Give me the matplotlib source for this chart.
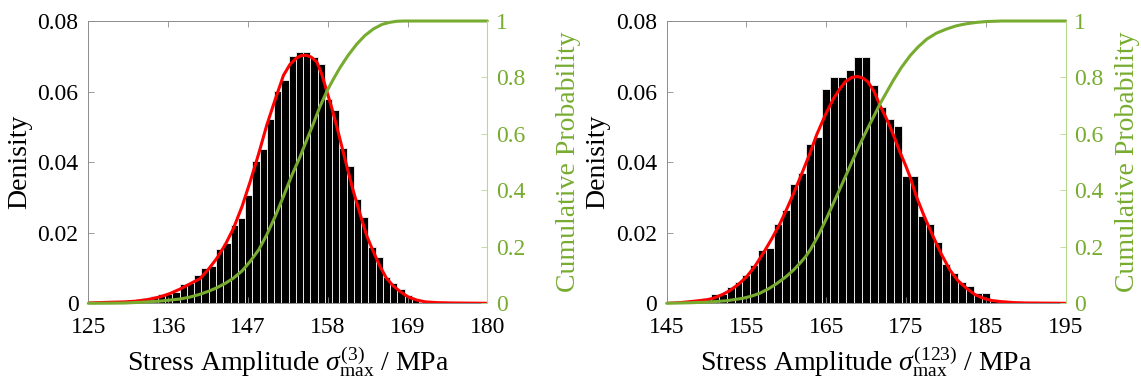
import numpy as np
import matplotlib
matplotlib.use('Agg')
import matplotlib.pyplot as plt

plt.rcParams['font.family'] = ['Liberation Serif', 'DejaVu Serif']
plt.rcParams['mathtext.fontset'] = 'custom'
plt.rcParams['mathtext.rm'] = 'Liberation Serif'
plt.rcParams['mathtext.it'] = 'Liberation Serif:italic'

# ---- left panel: sigma_max^(3) ----
bins_3 = [129.1, 130.1, 131.1, 132.1, 133.1, 134.1, 135.1, 136.1, 137.1, 138.1,
          139.1, 140.1, 141.1, 142.1, 143.1, 144.1, 145.1, 146.1, 147.1, 148.1,
          149.1, 150.1, 151.1, 152.1, 153.1, 154.1, 155.1, 156.1, 157.1, 158.1,
          159.1, 160.1, 161.1, 162.1, 163.1, 164.1, 165.1, 166.1, 167.1, 168.1,
          169.1, 170.1, 171.1]
dens_3 = [0.0003, 0.0006, 0.0008, 0.0013, 0.0014, 0.0020, 0.0026, 0.0027, 0.0031, 0.0054,
          0.0057, 0.0080, 0.0099, 0.0106, 0.0153, 0.0172, 0.0222, 0.0241, 0.0307, 0.0404,
          0.0436, 0.0521, 0.0602, 0.0634, 0.0701, 0.0711, 0.0711, 0.0699, 0.0677, 0.0580,
          0.0547, 0.0440, 0.0389, 0.0295, 0.0245, 0.0160, 0.0130, 0.0075, 0.0058, 0.0040,
          0.0023, 0.0011, 0.0004]
pdf_x_3 = [125.0, 126.5, 128.0, 130.0, 131.5, 133.0, 134.0, 135.0, 136.3, 137.6,
           139.0, 140.4, 141.5, 142.7, 143.9, 145.0, 146.2, 147.3, 148.5, 149.6,
           150.8, 151.9, 152.8, 153.7, 154.3, 155.0, 155.7, 156.5, 157.2, 157.9,
           158.5, 159.2, 159.9, 160.6, 161.5, 162.5, 163.4, 164.3, 165.2, 166.1,
           167.0, 168.0, 169.1, 170.3, 171.5, 173.0, 175.0, 180.0]
pdf_y_3 = [0.0001, 0.0002, 0.0003, 0.0004, 0.0006, 0.0010, 0.0014, 0.0019, 0.0028, 0.0040,
           0.0055, 0.0070, 0.0095, 0.0127, 0.0167, 0.0212, 0.0275, 0.0344, 0.0425, 0.0505,
           0.0580, 0.0646, 0.0677, 0.0695, 0.0702, 0.0703, 0.0698, 0.0684, 0.0648, 0.0599,
           0.0558, 0.0505, 0.0448, 0.0391, 0.0320, 0.0250, 0.0190, 0.0146, 0.0105, 0.0071,
           0.0050, 0.0033, 0.0018, 0.0009, 0.0004, 0.0002, 0.0001, 0.0000]
cdf_x_3 = [125.0, 128.0, 130.0, 132.5, 135.0, 137.6, 139.0, 140.4, 141.6, 142.7,
           143.9, 145.0, 146.2, 147.3, 148.5, 149.6, 150.8, 151.9, 153.0, 154.2,
           155.1, 156.0, 156.9, 157.9, 158.8, 159.7, 160.8, 162.0, 163.1, 164.3,
           165.5, 166.5, 167.5, 168.5, 180.0]
cdf_y_3 = [0.000, 0.0005, 0.001, 0.004, 0.008, 0.015, 0.022, 0.032, 0.043, 0.055,
           0.071, 0.089, 0.115, 0.148, 0.190, 0.243, 0.310, 0.379, 0.450, 0.520,
           0.578, 0.635, 0.695, 0.752, 0.795, 0.835, 0.878, 0.918, 0.948, 0.972,
           0.988, 0.995, 0.999, 1.000, 1.000]

# ---- right panel: sigma_max^(123) ----
bins_123 = [148.0, 149.0, 150.0, 151.0, 152.0, 153.0, 154.0, 155.0, 156.0, 157.0,
            158.0, 159.0, 160.0, 161.0, 162.0, 163.0, 164.0, 165.0, 166.0, 167.0,
            168.0, 169.0, 170.0, 171.0, 172.0, 173.0, 174.0, 175.0, 176.0, 177.0,
            178.0, 179.0, 180.0, 181.0, 182.0, 183.0, 184.0, 185.0, 186.0, 187.0]
dens_123 = [0.0003, 0.0007, 0.0016, 0.0026, 0.0026, 0.0047, 0.0061, 0.0080, 0.0108, 0.0151,
            0.0158, 0.0226, 0.0264, 0.0338, 0.0370, 0.0451, 0.0472, 0.0606, 0.0640, 0.0640,
            0.0662, 0.0698, 0.0698, 0.0618, 0.0557, 0.0521, 0.0502, 0.0360, 0.0360, 0.0247,
            0.0226, 0.0174, 0.0111, 0.0087, 0.0059, 0.0050, 0.0028, 0.0028, 0.0009, 0.0005]
pdf_x_123 = [145.0, 146.7, 148.5, 150.0, 150.8, 152.0, 152.9, 154.0, 155.0, 156.0,
             157.1, 158.2, 159.2, 160.1, 160.9, 162.1, 163.0, 163.8, 164.9, 165.9,
             166.7, 167.4, 168.2, 168.9, 169.6, 170.2, 171.0, 171.7, 172.4, 173.0,
             173.6, 174.2, 174.9, 175.5, 176.3, 177.3, 178.4, 179.4, 180.5, 181.5,
             182.6, 183.6, 184.7, 185.7, 186.8, 188.5, 190.0, 195.0]
pdf_y_123 = [0.0000, 0.0002, 0.0006, 0.0010, 0.0014, 0.0025, 0.0036, 0.0054, 0.0075, 0.0103,
             0.0142, 0.0184, 0.0226, 0.0270, 0.0311, 0.0377, 0.0428, 0.0478, 0.0535, 0.0580,
             0.0608, 0.0628, 0.0640, 0.0643, 0.0638, 0.0628, 0.0600, 0.0562, 0.0530, 0.0500,
             0.0466, 0.0430, 0.0393, 0.0358, 0.0302, 0.0245, 0.0189, 0.0140, 0.0094, 0.0064,
             0.0042, 0.0025, 0.0014, 0.0008, 0.0005, 0.0002, 0.0001, 0.0000]
cdf_x_123 = [145.0, 148.0, 150.0, 152.5, 154.6, 155.7, 156.7, 157.8, 158.8, 159.9,
             160.9, 161.7, 162.4, 163.0, 164.0, 165.1, 165.9, 167.1, 168.2, 169.2,
             170.1, 171.0, 171.7, 172.5, 173.4, 174.4, 175.5, 176.5, 177.6, 178.8,
             180.1, 181.3, 182.5, 183.8, 185.0, 187.0, 195.0]
cdf_y_123 = [0.000, 0.002, 0.004, 0.009, 0.018, 0.026, 0.036, 0.052, 0.070, 0.093,
             0.118, 0.142, 0.165, 0.190, 0.240, 0.305, 0.355, 0.430, 0.500, 0.562,
             0.615, 0.665, 0.705, 0.745, 0.790, 0.835, 0.877, 0.908, 0.936, 0.957,
             0.972, 0.983, 0.990, 0.995, 0.998, 1.000, 1.000]

GREEN = '#77AC30'
GREEN_LIGHT = '#b9d78e'
AXGRAY = '#8c8c8c'
FS = 17
LFS = 20


def panel(left, bins, dens, pdf_x, pdf_y, cdf_x, cdf_y, xlim, xticks, xlabel, rpad, fig):
    ax = fig.add_axes([left, 0.2203, 0.3497, 0.7257])
    ax.bar(bins, dens, width=1.0, color='black', edgecolor='#e6e6e6', linewidth=0.7)
    ax.plot(pdf_x, pdf_y, color='red', lw=2.2, solid_joinstyle='round',
            solid_capstyle='round')
    ax.set_xlim(xlim)
    ax.set_ylim(0, 0.08)
    ax.set_xticks(xticks)
    ax.set_xticklabels([str(t) for t in xticks])
    ax.set_yticks([0, 0.02, 0.04, 0.06, 0.08])
    ax.set_yticklabels(['0', '0.02', '0.04', '0.06', '0.08'])
    ax.tick_params(direction='in', length=4, width=0.6, color=AXGRAY, top=True,
                   labelsize=FS)
    ax.tick_params(axis='y', pad=7)
    ax.tick_params(axis='x', pad=10)
    for s in ['left', 'top', 'bottom']:
        ax.spines[s].set_color(AXGRAY)
        ax.spines[s].set_linewidth(0.7)
    ax.spines['right'].set_visible(False)
    ax.set_xlabel(xlabel, fontsize=LFS, labelpad=4)
    ax.set_ylabel('Denisity', fontsize=LFS, labelpad=4)

    ax2 = ax.twinx()
    ax2.plot(cdf_x, cdf_y, color=GREEN, lw=2.2, clip_on=False,
             solid_joinstyle='round', solid_capstyle='round')
    ax2.set_ylim(0, 1)
    ax2.set_yticks([0, 0.2, 0.4, 0.6, 0.8, 1])
    ax2.set_yticklabels(['0', '0.2', '0.4', '0.6', '0.8', '1'])
    ax2.tick_params(axis='y', direction='in', length=4, width=0.6, color=GREEN_LIGHT,
                    labelcolor=GREEN, labelsize=FS, pad=6)
    for s in ['left', 'top', 'bottom']:
        ax2.spines[s].set_visible(False)
    ax2.spines['right'].set_color(GREEN_LIGHT)
    ax2.spines['right'].set_linewidth(0.8)
    ax2.set_ylabel('Cumulative Probability', color=GREEN, fontsize=LFS, labelpad=rpad)
    return ax, ax2


fig = plt.figure(figsize=(11.41, 3.89), dpi=100)
panel(0.0774, bins_3, dens_3, pdf_x_3, pdf_y_3, cdf_x_3, cdf_y_3,
      (125, 180), [125, 136, 147, 158, 169, 180],
      r'Stress Amplitude $\sigma_{\mathrm{max}}^{(3)}$ / MPa', 22, fig)
panel(0.5843, bins_123, dens_123, pdf_x_123, pdf_y_123, cdf_x_123, cdf_y_123,
      (145, 195), [145, 155, 165, 175, 185, 195],
      r'Stress Amplitude $\sigma_{\mathrm{max}}^{(123)}$ / MPa', 8, fig)

fig.savefig('out.png', dpi=100)
